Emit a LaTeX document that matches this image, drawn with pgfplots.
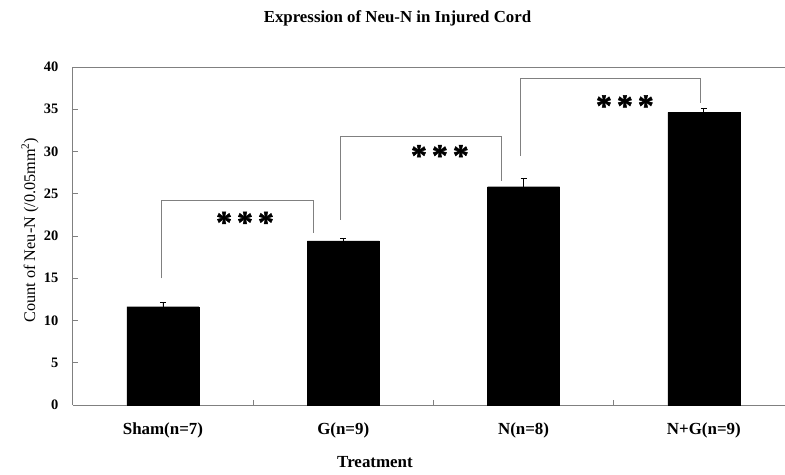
\documentclass[border=0pt]{standalone}
\usepackage{fontspec}
\setmainfont{Liberation Serif}
\newfontfamily\starfont[UprightFont={* Bold}, FakeBold=1.5]{Liberation Serif}
\usepackage{pgfplots}
\pgfplotsset{compat=1.18}
\begin{document}
\begin{tikzpicture}
\begin{axis}[
  scale only axis,
  width=712.2bp, height=338bp,
  xmin=-0.5, xmax=3.45,
  ymin=0, ymax=40,
  clip=false,
  axis y line*=left,
  axis line style={draw=gray, line width=0.9bp},
  ytick={0,5,...,40},
  ytick pos=left,
  xtick pos=bottom,
  tick align=inside,
  major tick length=5bp,
  minor tick length=5bp,
  tick style={draw=gray, line width=0.9bp},
  xtick={0,1,2,3},
  xticklabels={Sham(n=7),G(n=9),N(n=8),N+G(n=9)},
  major x tick style={draw=none},
  minor xtick={0.5,1.5,2.5},
  /pgf/number format/assume math mode=true,
  yticklabel style={font=\bfseries\fontsize{14.5}{14.5}\selectfont, xshift=-11bp},
  xticklabel style={font=\bfseries\fontsize{17}{17}\selectfont, yshift=-14bp},
]
\coordinate (SW) at (rel axis cs:0,0);
\addplot[ybar, fill=black, draw=black, bar width=72bp,
  error bars/.cd, y dir=plus, y explicit,
  error bar style={black, line width=0.8bp},
  error mark options={rotate=90, mark size=3bp, black, line width=0.8bp}]
  coordinates {(0,11.63) +- (0,0.47) (1,19.41) +- (0,0.3) (2,25.83) +- (0,0.95) (3,34.64) +- (0,0.47)};
\addplot[gray, line width=0.9bp, mark=none] coordinates {(-0.01,15.0) (-0.01,24.2) (0.837,24.2) (0.837,20.4)};
\addplot[gray, line width=0.9bp, mark=none] coordinates {(0.986,21.9) (0.986,31.75) (1.879,31.75) (1.879,26.5)};
\addplot[gray, line width=0.9bp, mark=none] coordinates {(1.98,29.5) (1.98,38.66) (2.983,38.66) (2.983,35.7)};
\node[font=\starfont\fontsize{32}{32}\selectfont, inner sep=0pt] at (axis cs:0.455,21.6) {*\hspace{5bp}*\hspace{5bp}*};
\node[font=\starfont\fontsize{32}{32}\selectfont, inner sep=0pt] at (axis cs:1.536,29.5) {*\hspace{5bp}*\hspace{5bp}*};
\node[font=\starfont\fontsize{32}{32}\selectfont, inner sep=0pt] at (axis cs:2.562,35.4) {*\hspace{5bp}*\hspace{5bp}*};
\end{axis}
\node[font=\bfseries\fontsize{16.9}{17}\selectfont] at ([shift={(324.7bp,387bp)}]SW) {Expression of Neu-N in Injured Cord};
\node[font=\bfseries\fontsize{17}{17}\selectfont] at ([shift={(302.2bp,-57bp)}]SW) {Treatment};
\node[font=\fontsize{16.3}{16.3}\selectfont, rotate=90] at ([shift={(-42.8bp,175bp)}]SW) {Count of Neu-N (/0.05mm\textsuperscript{2})};
\pgfresetboundingbox
\path ([shift={(-72.8bp,-70bp)}]SW) rectangle ([shift={(712.2bp,405bp)}]SW);
\end{tikzpicture}
\end{document}
